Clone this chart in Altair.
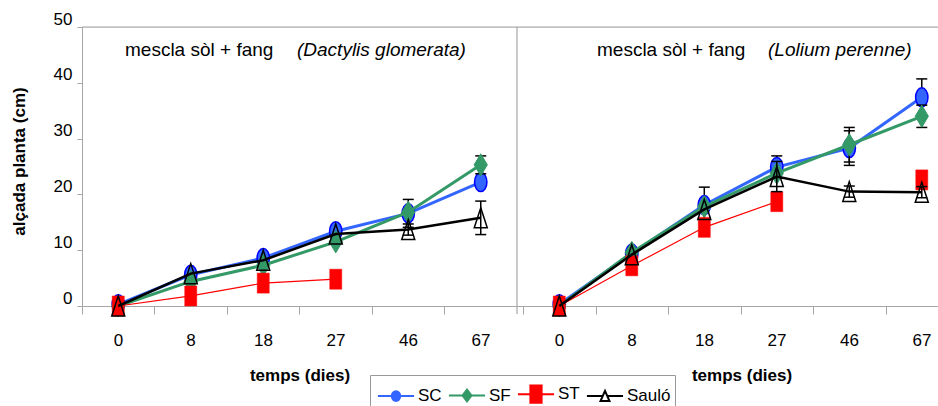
import altair as alt
import pandas as pd

# ---------------- data ----------------
days = ["0", "8", "18", "27", "46", "67"]
series = ["SC", "SF", "ST", "Sauló"]
panel_names = ["Dactylis", "Lolium"]

# Dactylis glomerata (left panel)
dac_SC = [0.3, 5.6, 8.6, 13.4, 16.6, 22.2]
dac_SF = [0.0, 4.4, 7.3, 11.5, 16.8, 25.3]
dac_ST = [0.0, 1.8, 4.1, 4.8, None, None]
dac_Saulo = [0.0, 5.8, 8.2, 12.9, 13.7, 15.8]
dac_SC_err = [0, 0, 0, 0, 2.5, 0]
dac_SF_err = [0, 0, 0, 0, 0, 1.6]
dac_ST_err = [0, 0, 0, 0, 0, 0]
dac_Saulo_err = [0, 0, 0, 0, 1.0, 3.0]

# Lolium perenne (right panel)
lol_SC = [0.3, 9.4, 18.1, 24.9, 28.3, 37.4]
lol_SF = [0.0, 9.6, 17.8, 23.8, 28.9, 34.0]
lol_ST = [0.0, 7.2, 14.1, 18.7, None, 22.6]
lol_Saulo = [0.0, 9.2, 17.3, 23.2, 20.5, 20.4]
lol_SC_err = [0, 0, 3.2, 2.0, 3.1, 3.3]
lol_SF_err = [0, 0, 0, 0, 3.1, 2.0]
lol_ST_err = [0, 0, 0, 0, 0, 0]
lol_Saulo_err = [0, 0, 0, 2.7, 1.0, 1.0]

panel_titles = ["mescla sòl + fang", "mescla sòl + fang"]
panel_species = ["(Dactylis glomerata)", "(Lolium perenne)"]
x_title = "temps (dies)"
y_title = "alçada planta (cm)"

values = {
    "Dactylis": {"SC": (dac_SC, dac_SC_err), "SF": (dac_SF, dac_SF_err),
                 "ST": (dac_ST, dac_ST_err), "Sauló": (dac_Saulo, dac_Saulo_err)},
    "Lolium": {"SC": (lol_SC, lol_SC_err), "SF": (lol_SF, lol_SF_err),
               "ST": (lol_ST, lol_ST_err), "Sauló": (lol_Saulo, lol_Saulo_err)},
}

records = []
for p in panel_names:
    for s in series:
        vals, errs = values[p][s]
        for i, d in enumerate(days):
            records.append({"panel": p, "series": s, "idx": i, "day": d,
                            "value": vals[i], "err": errs[i]})
df = pd.DataFrame(records)

# ---------------- styling ----------------
FONT = "Liberation Sans"
GRAY = "#A6A6A6"
GAP = 6.0833           # start of right panel on the shared x scale
XMAX = 11.807

styles = {
    "SC": dict(line="#3366FF", lw=3, fill="#3366FF", stroke="#0000FF", sw=1.5,
               shape="M-0.65,0A0.65,1 0 1,0 0.65,0A0.65,1 0 1,0 -0.65,0Z", size=361),
    "SF": dict(line="#339966", lw=3, fill="#339966", stroke="#339966", sw=1,
               shape="M0,-1L0.6,0L0,1L-0.6,0Z", size=484),
    "ST": dict(line="#FF0000", lw=1.2, fill="#FF0000", stroke="#FF0000", sw=0.5,
               shape="M-0.6,-1L0.6,-1L0.6,1L-0.6,1Z", size=400),
    "Sauló": dict(line="#000000", lw=2.5, fill=None, stroke="#000000", sw=1.5,
                  shape="M0,-1L0.65,1L-0.65,1Z", size=400),
}

legend_paths = [
    "M-0.79,0L0.2,0M0.8,0L1.79,0M0.2,0A0.3,0.34 0 1,0 0.8,0A0.3,0.34 0 1,0 0.2,0Z",
    "M-0.79,0L0.18,0M0.82,0L1.79,0M0.5,-0.42L0.82,0L0.5,0.42L0.18,0Z",
    "M-0.79,0L0.1,0M0.9,0L1.79,0M0.1,-0.62L0.9,-0.62L0.9,0.62L0.1,0.62Z",
    "M-0.79,0L0.34,0M0.66,0L1.79,0M0.5,-0.36L0.82,0.36L0.18,0.36Z",
]
legend_fill = ["#3366FF", "#339966", "#FF0000", "#FFFFFF"]
legend_stroke = ["#3366FF", "#339966", "#FF0000", "#000000"]

tick_vals = [float(i) for i in range(6)] + [GAP + i for i in range(6)]
label_expr = ("[" + ",".join("'%s'" % d for d in days) + "]"
              "[round(datum.value < 6 ? datum.value : datum.value - %s)]" % GAP)

x_scale = alt.Scale(domain=[0, XMAX], nice=False, zero=False)
y_scale = alt.Scale(domain=[0, 50], nice=False, zero=False)

x_axis = alt.Axis(values=tick_vals, labelExpr=label_expr, labelOffset=36, title=None,
                  grid=False, tickSize=8, tickColor=GRAY, domainColor=GRAY,
                  labelFontSize=17, labelFont=FONT, labelColor="black",
                  labelPadding=18, labelFlush=False, labelBound=False, labelOverlap=False)
y_axis = alt.Axis(values=[0, 10, 20, 30, 40, 50], title=y_title, grid=False,
                  tickSize=5, tickColor=GRAY, domainColor=GRAY,
                  labelFontSize=17, labelFont=FONT, labelColor="black",
                  labelBaseline="alphabetic", labelOffset=-3, labelPadding=5,
                  titleFont=FONT, titleFontSize=17, titleFontWeight="bold",
                  titleColor="black", titleX=-63, titleY=134, titleAngle=-90,
                  titleBaseline="middle", titleAlign="center")

X = alt.X("xpos:Q", scale=x_scale, axis=x_axis)

base = alt.Chart(df).transform_calculate(
    xpos="datum.idx + 0.5 + (datum.panel == 'Lolium' ? %s : 0)" % GAP
)

layers = []

# frame lines
layers.append(alt.Chart(pd.DataFrame({"k": [0]})).mark_rule(color=GRAY, strokeWidth=1.2)
              .encode(y=alt.datum(50)))
layers.append(alt.Chart(pd.DataFrame({"k": [0]})).mark_rule(color=GRAY, strokeWidth=1.2)
              .encode(x=alt.datum(6), y=alt.value(0), y2=alt.value(287)))

for s in series:
    st = styles[s]
    sb = base.transform_filter(alt.datum.series == s)
    layers.append(
        sb.mark_line(color=st["line"], strokeWidth=st["lw"], invalid="break-paths-show-domains")
        .encode(x=X, y=alt.Y("value:Q", scale=y_scale, axis=y_axis), detail="panel:N",
                order="idx:Q")
    )
    eb = sb.transform_filter("datum.err > 0").transform_calculate(
        lo="datum.value - datum.err", hi="datum.value + datum.err")
    layers.append(eb.mark_rule(color="black", strokeWidth=1.5).encode(
        x=X, y=alt.Y("lo:Q", scale=y_scale, axis=y_axis), y2="hi:Q"))
    for f in ["lo", "hi"]:
        layers.append(eb.mark_tick(color="black", orient="horizontal", size=11,
                                   thickness=1.5, opacity=1).encode(
            x=X, y=alt.Y(f + ":Q", scale=y_scale, axis=y_axis)))
    pts = sb.transform_filter("isValid(datum.value)")
    if st["fill"] is None:
        pm = pts.mark_point(shape=st["shape"], size=st["size"], filled=False,
                            stroke=st["stroke"], strokeWidth=st["sw"], opacity=1)
    else:
        pm = pts.mark_point(shape=st["shape"], size=st["size"], filled=True,
                            fill=st["fill"], stroke=st["stroke"], strokeWidth=st["sw"],
                            opacity=1)
    layers.append(pm.encode(x=X, y=alt.Y("value:Q", scale=y_scale, axis=y_axis)))

# panel titles
title_pos = [(43, 215), (515, 686)]
for k in range(2):
    layers.append(alt.Chart(pd.DataFrame({"t": [panel_titles[k]]})).mark_text(
        align="left", baseline="alphabetic", fontSize=19, font=FONT, color="black")
        .encode(x=alt.value(title_pos[k][0]), y=alt.value(29), text="t:N"))
    layers.append(alt.Chart(pd.DataFrame({"t": [panel_species[k]]})).mark_text(
        align="left", baseline="alphabetic", fontSize=19, font=FONT, fontStyle="italic",
        color="black")
        .encode(x=alt.value(title_pos[k][1]), y=alt.value(29), text="t:N"))

# x-axis titles (one per panel)
for cx in [218, 660]:
    layers.append(alt.Chart(pd.DataFrame({"t": [x_title]})).mark_text(
        align="center", baseline="middle", fontSize=17, font=FONT, fontWeight="bold",
        color="black")
        .encode(x=alt.value(cx), y=alt.value(349), text="t:N"))

# legend
legend = alt.Legend(orient="none", legendX=288, legendY=348, direction="horizontal",
                    columns=4, title=None, symbolSize=784, symbolStrokeWidth=2,
                    symbolOpacity=1, labelFontSize=17, labelFont=FONT, labelColor="black",
                    labelOffset=14, columnPadding=2, padding=4, strokeColor="#999999",
                    fillColor="white", labelLimit=200)
layers.append(
    alt.Chart(pd.DataFrame({"series": series})).transform_filter("false")
    .mark_point(filled=True, opacity=1, strokeWidth=2)
    .encode(
        shape=alt.Shape("series:N", scale=alt.Scale(domain=series, range=legend_paths),
                        legend=legend),
        fill=alt.Fill("series:N", scale=alt.Scale(domain=series, range=legend_fill),
                      legend=legend),
        stroke=alt.Stroke("series:N", scale=alt.Scale(domain=series, range=legend_stroke),
                          legend=legend),
    )
)

chart = alt.layer(*layers).properties(
    width=856, height=279,
    autosize=alt.AutoSizeParams(type="none"),
    padding={"left": 82, "top": 27, "right": 0, "bottom": 100},
    background="white",
).configure_view(stroke=None).configure(font=FONT)

chart.save("out.html", embed_options={"renderer": "svg", "actions": False})
